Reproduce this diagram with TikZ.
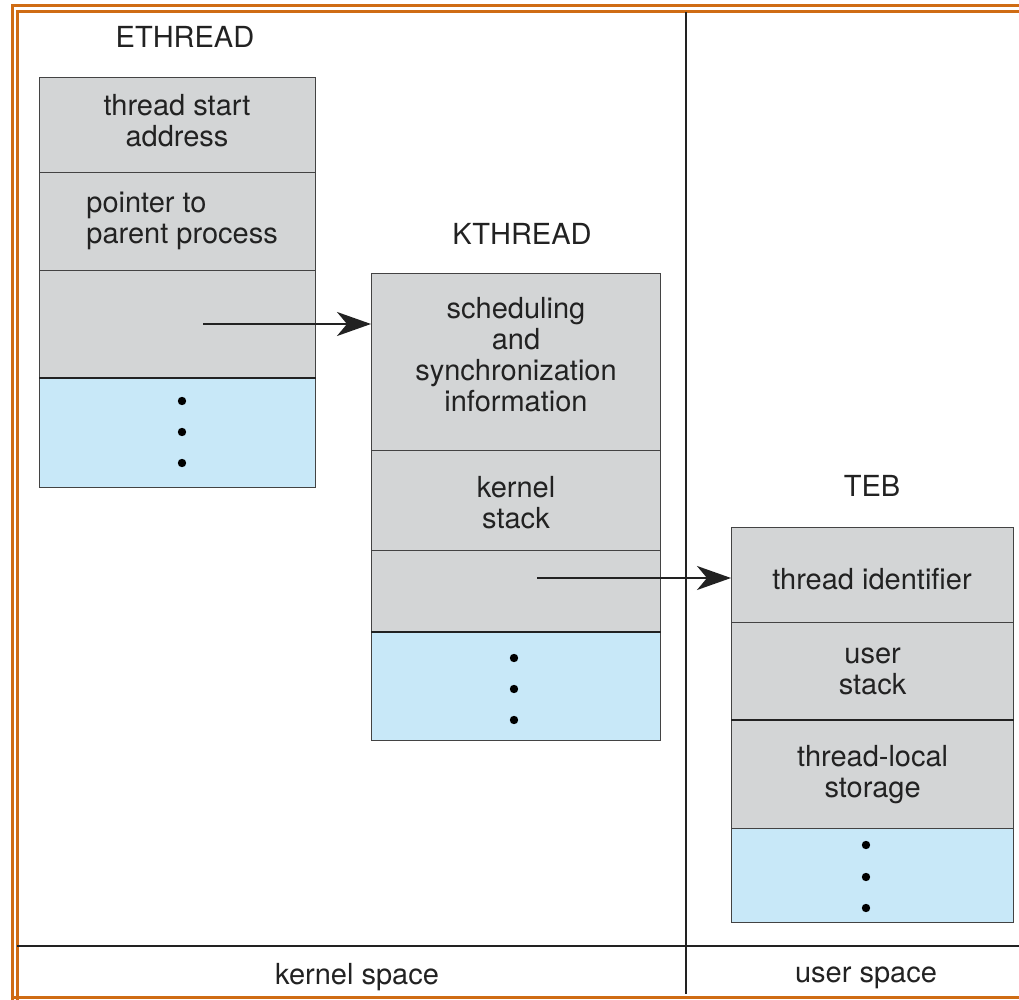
\documentclass[tikz,border=0pt]{standalone}
\usepackage{fontspec}
\setmainfont{TeX Gyre Heros}
\usetikzlibrary{arrows.meta}
\definecolor{frameor}{HTML}{CF6C14}
\definecolor{secgray}{HTML}{D3D5D6}
\definecolor{secblue}{HTML}{C8E8F8}
\definecolor{ink}{HTML}{222222}
\tikzset{
  sec/.style={draw=ink!85, line width=0.6pt, fill=secgray, anchor=north west, inner sep=0pt,
    text=ink, align=center, font=\fontsize{14.5}{15.5}\selectfont},
  blu/.style={sec, fill=secblue},
  ttl/.style={text=ink, font=\fontsize{14.5}{15.5}\selectfont, inner sep=0pt},
  dotc/.style={circle, fill=black, inner sep=0pt, minimum size=4.2pt},
  thk/.style={draw=ink, line width=1.1pt},
  arr/.style={draw=ink, line width=1.1pt, -{Stealth[length=17pt,width=12pt,inset=5pt]}},
  lin/.style={draw=ink, line width=0.7pt},
}
\begin{document}
\begin{tikzpicture}[x=0.5pt,y=-0.5pt]
\useasboundingbox (0,0) rectangle (1019,1000);
\fill[white] (0,0) rectangle (1019,1000);
% orange double frame
\draw[frameor, line width=1.5pt] (12.5,1040) -- (12.5,6) -- (1040,6);
\draw[frameor, line width=1.5pt] (17.5,1040) -- (17.5,12) -- (1040,12);
\draw[frameor, line width=1.5pt] (12.5,997) -- (1040,997);
% dividers
\coordinate (dtop) at (686,12);
\coordinate (dbot) at (686,994);
\coordinate (hl) at (17,946);
\coordinate (hr) at (1019,946);
\draw[lin] (dtop) -- (dbot);
\draw[lin] (hl) -- (hr);
\node[ttl] (ks) at (357,977) {kernel space};
\node[ttl] (us) at (866,978) {user space};

% ETHREAD
\node[ttl] (et) at (185,37) {ETHREAD};
\node[sec, minimum width=276*0.5pt, minimum height=95*0.5pt] (e1) at (39,77) {};
\node[ttl, align=center] (e1t) at (177,121) {thread start\\address};
\node[sec, minimum width=276*0.5pt, minimum height=98*0.5pt] (e2) at (39,172) {};
\node[ttl, align=left, anchor=west] (e2t) at (86,221) {pointer to\\parent process};
\node[sec, minimum width=276*0.5pt, minimum height=108*0.5pt] (e3) at (39,270) {};
\node[blu, minimum width=276*0.5pt, minimum height=109*0.5pt] (e4) at (39,378) {};
\draw[thk] (e4.north west) -- (e4.north east);
\node[dotc] (ed1) at (182,401) {};
\node[dotc] (ed2) at (182,432) {};
\node[dotc] (ed3) at (182,463) {};

% KTHREAD
\node[ttl] (kt) at (522,234) {KTHREAD};
\node[sec, minimum width=289*0.5pt, minimum height=177*0.5pt] (k1) at (371,273) {};
\node[ttl, align=center] (k1t) at (516,354.5) {scheduling\\and\\synchronization\\information};
\node[sec, minimum width=289*0.5pt, minimum height=100*0.5pt] (k2) at (371,450) {};
\node[ttl, align=center] (k2t) at (516,503) {kernel\\stack};
\node[sec, minimum width=289*0.5pt, minimum height=82*0.5pt] (k3) at (371,550) {};
\node[blu, minimum width=289*0.5pt, minimum height=108*0.5pt] (k4) at (371,632) {};
\draw[thk] (k4.north west) -- (k4.north east);
\node[dotc] (kd1) at (514,658) {};
\node[dotc] (kd2) at (514,689) {};
\node[dotc] (kd3) at (514,720) {};

% TEB
\node[ttl] (tb) at (872,486) {TEB};
\node[sec, minimum width=282*0.5pt, minimum height=95*0.5pt] (t1) at (731,527) {};
\node[ttl] (t1t) at (872,579) {thread identifier};
\node[sec, minimum width=282*0.5pt, minimum height=98*0.5pt] (t2) at (731,622) {user\\stack};
\node[sec, minimum width=282*0.5pt, minimum height=108*0.5pt] (t3) at (731,720) {thread-local\\storage};
\draw[thk] (t3.north west) -- (t3.north east);
\node[blu, minimum width=282*0.5pt, minimum height=94*0.5pt] (t4) at (731,828) {};
\node[dotc] (td1) at (866,845) {};
\node[dotc] (td2) at (866,877) {};
\node[dotc] (td3) at (866,908) {};

% pointers
\coordinate (a1) at (203,324);
\coordinate (a2) at (537,578);
\draw[arr] (a1) -- (k1.west |- a1);
\draw[arr] (a2) -- (t1.west |- a2);
\end{tikzpicture}
\end{document}
